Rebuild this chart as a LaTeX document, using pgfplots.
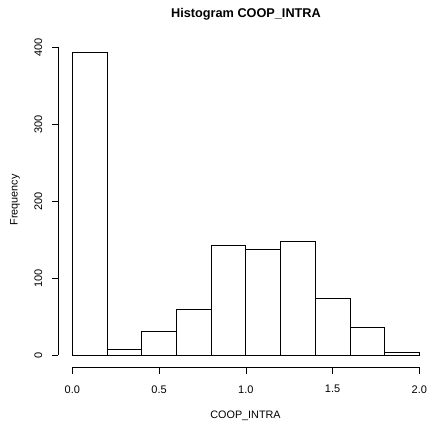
\documentclass[border=0pt]{standalone}
\usepackage{fontspec}
\setmainfont{Liberation Sans}
\usepackage{pgfplots}
\pgfplotsset{compat=1.18}
\begin{document}
\begin{tikzpicture}[x=1pt,y=1pt]
\useasboundingbox (0,0) rectangle (429,430);
\clip (0,0) rectangle (429,430);
\begin{axis}[
  at={(58.4pt,62.8pt)}, anchor=south west,
  scale only axis, width=374.8pt, height=328.1pt,
  xmin=-0.08, xmax=2.08, ymin=-15.8, ymax=410.8,
  axis lines*=left,
  axis line style={draw=none},
  tick align=outside,
  major tick length=6.6pt,
  every tick/.style={black, line width=0.6pt},
  xtick={0,0.5,1,1.5,2},
  ytick={0,100,200,300,400},
  xticklabels={0.0,0.5,1.0,1.5,2.0},
  yticklabels={0,100,200,300,400},
  tick label style={font=\fontsize{11}{13}\selectfont},
  xticklabel style={anchor=north},
  yticklabel style={rotate=90, anchor=south},
  xticklabel shift=8pt,
  yticklabel shift=6pt,
  /pgf/number format/assume math mode=true,
  clip=false,
]
\addplot[ybar interval, draw=black, fill=white, line width=0.75pt] coordinates {
  (0.0,394) (0.2,7) (0.4,31) (0.6,60) (0.8,143) (1.0,137) (1.2,148) (1.4,74) (1.6,36) (1.8,4) (2.0,4)
};
\draw[line width=0.6pt] (axis cs:0,-15.8) -- (axis cs:2,-15.8);
\draw[line width=0.6pt] (axis cs:-0.08,0) -- (axis cs:-0.08,400);
\end{axis}
\node[font=\fontsize{12.7}{14}\selectfont\bfseries] at (246,416) {Histogram COOP\_INTRA};
\node[font=\fontsize{10.8}{12}\selectfont] at (245.5,14) {COOP\_INTRA};
\node[font=\fontsize{10.8}{12}\selectfont, rotate=90] at (15,230) {Frequency};
\end{tikzpicture}
\end{document}
